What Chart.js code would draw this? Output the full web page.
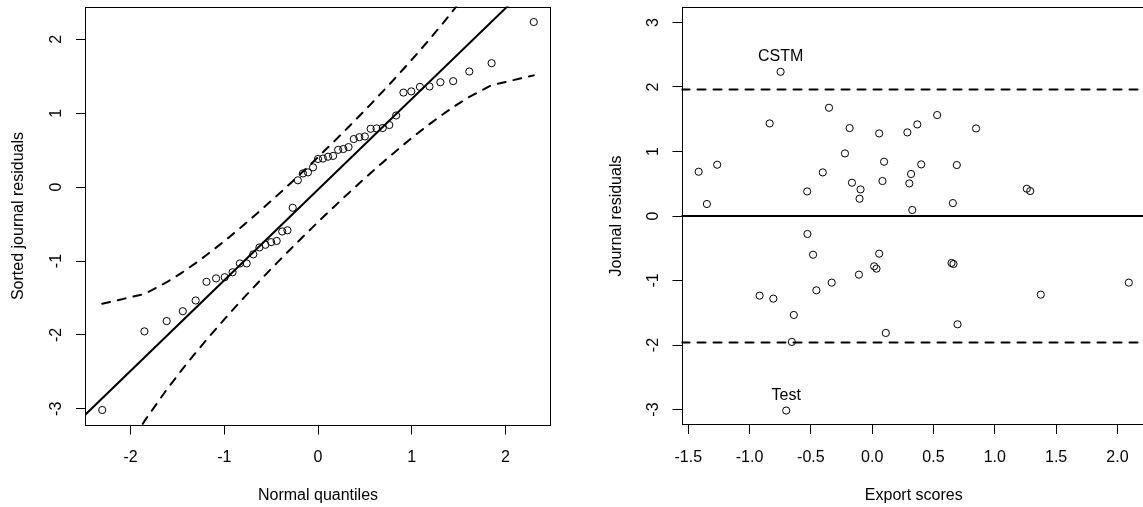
<!DOCTYPE html>
<html><head><meta charset="utf-8">
<script src="https://cdn.jsdelivr.net/npm/chart.js@4"></script>
<style>
html,body{margin:0;padding:0;background:#fff;overflow:hidden;width:1143px;height:507px;}
#c1{position:absolute;left:0;top:0;}
#c2{position:absolute;left:571px;top:0;}
</style></head><body>
<canvas id="c1" width="571" height="507"></canvas>
<canvas id="c2" width="580" height="507"></canvas>
<script>
// ---------- Left panel: normal QQ plot (47 journals) ----------
const normalQuantiles = [-2.303,-1.853,-1.615,-1.443,-1.306,-1.190,-1.088,-0.996,-0.912,-0.834,
  -0.761,-0.691,-0.625,-0.562,-0.500,-0.441,-0.382,-0.326,-0.270,-0.215,
  -0.161,-0.107,-0.053,0,0.053,0.107,0.161,0.215,0.270,0.326,
  0.382,0.441,0.500,0.562,0.625,0.691,0.761,0.834,0.912,0.996,
  1.088,1.190,1.306,1.443,1.615,1.853,2.303];
const sortedResiduals = [-3.016,-1.952,-1.813,-1.679,-1.534,-1.281,-1.235,-1.219,-1.152,-1.033,
  -1.033,-0.909,-0.816,-0.780,-0.744,-0.728,-0.600,-0.584,-0.279,0.093,
  0.186,0.200,0.268,0.381,0.387,0.412,0.423,0.505,0.516,0.542,
  0.651,0.676,0.686,0.790,0.795,0.800,0.841,0.970,1.280,1.296,
  1.357,1.363,1.420,1.435,1.565,1.678,2.235];
const envUpper = [-1.579,-1.446,-1.287,-1.149,-1.028,-0.919,-0.819,-0.726,-0.639,-0.556,
  -0.477,-0.401,-0.328,-0.256,-0.186,-0.118,-0.051,0.016,0.081,0.147,
  0.212,0.276,0.341,0.407,0.472,0.539,0.606,0.674,0.743,0.815,
  0.887,0.963,1.040,1.121,1.206,1.295,1.389,1.490,1.599,1.718,
  1.850,2.000,2.176,2.391,2.674,3.101,4.070];
const envLower = [-4.136,-3.167,-2.740,-2.457,-2.242,-2.066,-1.916,-1.784,-1.665,-1.556,
  -1.455,-1.361,-1.272,-1.187,-1.106,-1.029,-0.953,-0.881,-0.809,-0.740,
  -0.672,-0.605,-0.538,-0.473,-0.407,-0.342,-0.278,-0.213,-0.147,-0.082,
  -0.015,0.052,0.120,0.190,0.262,0.335,0.411,0.490,0.573,0.660,
  0.753,0.853,0.962,1.083,1.221,1.380,1.513];
const fitLineX = [-2.487, 2.487];
const fitLineY = [-3.083, 3.017];
const qqXLim = [-2.487, 2.487];
const qqYLim = [-3.226, 2.445];
const qqXTicks = [-2,-1,0,1,2];
const qqYTicks = [-3,-2,-1,0,1,2];

// ---------- Right panel: residuals vs export scores ----------
const exportScores = [-1.415,-1.348,-1.264,-0.836,-0.747,-0.530,-0.403,-0.352,-0.222,-0.184,
  -0.165,-0.095,-0.103,0.057,0.097,0.084,0.287,0.368,0.317,0.303,
  0.400,0.327,0.530,0.690,0.658,0.847,1.261,1.289,-0.528,-0.482,
  0.057,-0.918,-0.806,-0.639,-0.455,-0.330,-0.108,0.016,0.035,-0.655,
  -0.701,0.647,0.663,1.375,2.093,0.696,0.111];
const journalResiduals = [0.686,0.186,0.795,1.435,2.235,0.381,0.676,1.678,0.970,1.363,
  0.516,0.412,0.268,1.280,0.841,0.542,1.296,1.420,0.651,0.505,
  0.800,0.093,1.565,0.790,0.200,1.357,0.423,0.387,-0.279,-0.600,
  -0.584,-1.235,-1.281,-1.534,-1.152,-1.033,-0.909,-0.780,-0.816,-1.952,
  -3.016,-0.728,-0.744,-1.219,-1.033,-1.679,-1.813];
const pointLabels = [{text:'CSTM', index:4}, {text:'Test', index:40}];
const refSolid = [0];
const refDashed = [1.96, -1.96];
const rXLim = [-1.555, 2.233];
const rYLim = [-3.24, 3.24];
const rXTicks = [-1.5,-1.0,-0.5,0.0,0.5,1.0,1.5,2.0];
const rYTicks = [-3,-2,-1,0,1,2,3];

// ---------- Chart setup ----------
Chart.defaults.font.family = '"Liberation Sans", Arial, Helvetica, sans-serif';
Chart.defaults.font.size = 16;
Chart.defaults.color = '#000';

const boxPlugin = {
  id: 'box',
  afterDatasetsDraw(chart) {
    const {ctx, chartArea: a} = chart;
    ctx.save();
    ctx.strokeStyle = '#000';
    ctx.lineWidth = 1;
    ctx.strokeRect(Math.round(a.left) + 0.5, Math.round(a.top) + 0.5,
      Math.round(a.right - a.left) - 1, Math.round(a.bottom - a.top) - 1);
    ctx.restore();
  }
};

const labelPlugin = {
  id: 'ptlabels',
  afterDatasetsDraw(chart, args, opts) {
    if (!opts.items) return;
    const ctx = chart.ctx;
    const meta = chart.getDatasetMeta(0);
    ctx.save();
    ctx.fillStyle = '#000';
    ctx.font = '16px "Liberation Sans", Arial, sans-serif';
    ctx.textAlign = 'center';
    ctx.textBaseline = 'middle';
    opts.items.forEach(it => {
      const el = meta.data[it.index];
      ctx.fillText(it.text, el.x, el.y - 15);
    });
    ctx.restore();
  }
};

function zeroPad(s) { s.paddingTop = 0; s.paddingBottom = 0; s.paddingLeft = 0; s.paddingRight = 0; }
function xScale(lim, tickVals, fmt, title, tickPad, titlePad, height) {
  return {
    type: 'linear', position: 'bottom', min: lim[0], max: lim[1],
    afterBuildTicks: s => { s.ticks = tickVals.map(v => ({value: v})); },
    afterFit: s => { s.height = height; zeroPad(s); },
    grid: {display: true, drawOnChartArea: false, drawTicks: true, tickLength: 9, color: '#000', lineWidth: 1},
    border: {display: false},
    ticks: {padding: tickPad, color: '#000', font: {size: 16}, autoSkip: false, maxRotation: 0, minRotation: 0,
      callback: v => fmt(v)},
    title: {display: true, text: title, color: '#000', font: {size: 16}, padding: {top: 0, bottom: titlePad}}
  };
}
function yScale(lim, tickVals, fmt, title, tickPad, titlePad, width) {
  return {
    type: 'linear', position: 'left', min: lim[0], max: lim[1],
    afterBuildTicks: s => { s.ticks = tickVals.map(v => ({value: v})); },
    afterFit: s => { s.width = width; zeroPad(s); },
    grid: {display: true, drawOnChartArea: false, drawTicks: true, tickLength: 9, color: '#000', lineWidth: 1},
    border: {display: false},
    ticks: {padding: tickPad, color: '#000', font: {size: 16}, autoSkip: false, minRotation: 90, maxRotation: 90,
      crossAlign: 'center', callback: v => fmt(v)},
    title: {display: true, text: title, color: '#000', font: {size: 16}, padding: {top: titlePad, bottom: 0}}
  };
}
const pointStyle = {showLine: false, pointRadius: 3.6, pointBorderWidth: 1, borderColor: '#000',
  backgroundColor: 'rgba(0,0,0,0)', pointBackgroundColor: 'rgba(0,0,0,0)'};
const solidLine = {showLine: true, pointRadius: 0, borderWidth: 2, borderColor: '#000', fill: false,
  borderCapStyle: 'round', borderJoinStyle: 'round'};
const dashedLine = Object.assign({}, solidLine, {borderDash: [8, 8]});
const intFmt = v => String(v);
const decFmt = v => v.toFixed(1);

new Chart(document.getElementById('c1'), {
  type: 'scatter',
  data: {datasets: [
    Object.assign({data: normalQuantiles.map((x, i) => ({x, y: sortedResiduals[i]}))}, pointStyle),
    Object.assign({data: fitLineX.map((x, i) => ({x, y: fitLineY[i]}))}, solidLine),
    Object.assign({data: normalQuantiles.map((x, i) => ({x, y: envUpper[i]}))}, dashedLine),
    Object.assign({data: normalQuantiles.map((x, i) => ({x, y: envLower[i]}))}, dashedLine)
  ]},
  options: {
    responsive: false, animation: false, events: [],
    layout: {padding: {top: 6.5, right: 20, left: 0, bottom: 0}},
    plugins: {legend: {display: false}, tooltip: {enabled: false}},
    scales: {
      x: xScale(qqXLim, qqXTicks, intFmt, 'Normal quantiles', 13.9, 1.9, 81.5),
      y: yScale(qqYLim, qqYTicks, intFmt, 'Sorted journal residuals', 12.2, 8.9, 85)
    }
  },
  plugins: [boxPlugin]
});

const refDatasets = refSolid.map(v => Object.assign({data: rXLim.map(x => ({x, y: v}))}, solidLine))
  .concat(refDashed.map(v => Object.assign({data: rXLim.map(x => ({x, y: v}))}, dashedLine)));

new Chart(document.getElementById('c2'), {
  type: 'scatter',
  data: {datasets: [
    Object.assign({data: exportScores.map((x, i) => ({x, y: journalResiduals[i]}))}, pointStyle)
  ].concat(refDatasets)},
  options: {
    responsive: false, animation: false, events: [],
    layout: {padding: {top: 7, right: 3, left: 0, bottom: 0}},
    plugins: {legend: {display: false}, tooltip: {enabled: false}, ptlabels: {items: pointLabels}},
    scales: {
      x: xScale(rXLim, rXTicks, decFmt, 'Export scores', 14.4, 1.9, 82),
      y: yScale(rYLim, rYTicks, intFmt, 'Journal residuals', 11.6, 36, 110.5)
    }
  },
  plugins: [boxPlugin, labelPlugin]
});
</script>
</body></html>
